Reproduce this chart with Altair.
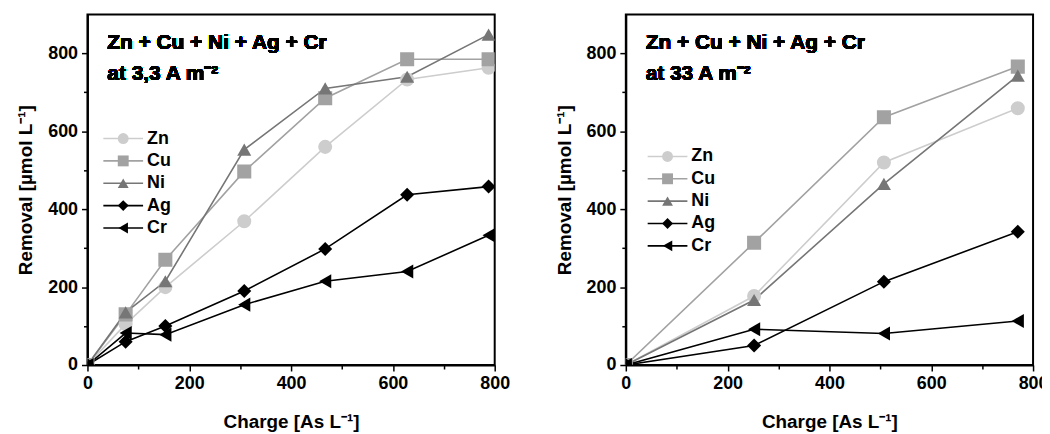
import altair as alt
import pandas as pd

metals = ["Zn", "Cu", "Ni", "Ag", "Cr"]
grays = ["#cdcdcd", "#a2a2a2", "#767676", "#000000", "#000000"]
shapes = ["circle", "square", "triangle-up", "diamond", "triangle-left"]

# Panel 1: 3,3 A m-2
charge1 = [0, 75, 153, 308, 467, 628, 788]
zn1 = [0, 105, 200, 369, 560, 733, 763]
cu1 = [0, 130, 270, 497, 685, 785, 785]
ni1 = [0, 135, 215, 553, 710, 740, 848]
ag1 = [0, 60, 100, 190, 298, 437, 458]
cr1 = [0, 82, 78, 155, 215, 240, 333]

# Panel 2: 33 A m-2
charge2 = [0, 252, 507, 770]
zn2 = [0, 177, 520, 659]
cu2 = [0, 314, 636, 766]
ni2 = [0, 167, 465, 743]
ag2 = [0, 50, 214, 342]
cr2 = [0, 92, 81, 113]

FONT = "Liberation Sans"
W, H = 410, 353


def make_df(charge, series):
    rows = []
    for m, vals in zip(metals, series):
        for c, v in zip(charge, vals):
            rows.append({"metal": m, "charge": c, "removal": v})
    return pd.DataFrame(rows)


legend_df = pd.DataFrame({"metal": metals, "rank": list(range(len(metals)))})


def panel(df, line2, leg_left, leg_top):
    x = alt.X("charge:Q", scale=alt.Scale(domain=[0, 800], nice=False),
              axis=alt.Axis(title="Charge [As L⁻¹]", values=list(range(0, 801, 100)),
                            labelExpr="datum.value % 200 == 0 ? datum.label : ''",
                            tickSize={"condition": {"test": "datum.value % 200 == 0", "value": 6}, "value": 4},
                            labelFlush=False, labelOverlap=False,
                            titlePadding=20, labelPadding=4))
    yscale = alt.Scale(domain=[0, 900], nice=False)
    y = alt.Y("removal:Q", scale=yscale,
              axis=alt.Axis(title="Removal [µmol L⁻¹]", values=list(range(0, 801, 100)),
                            labelExpr="datum.value % 200 == 0 ? datum.label : ''",
                            tickSize={"condition": {"test": "datum.value % 200 == 0", "value": 6}, "value": 4},
                            labelFlush=False, labelOverlap=False,
                            titlePadding=12, labelPadding=4))
    y_noaxis = alt.Y("removal:Q", scale=yscale, axis=None)
    color = alt.Color("metal:N", scale=alt.Scale(domain=metals, range=grays), legend=None)
    shape = alt.Shape("metal:N", scale=alt.Scale(domain=metals, range=shapes), legend=None)
    base = alt.Chart(df)
    lines = base.mark_line(strokeWidth=1.6, clip=True).encode(x=x, y=y, color=color, detail="metal:N")
    pts = base.mark_point(filled=True, size=200, opacity=1, clip=True).encode(
        x=x, y=y_noaxis, color=color, shape=shape)

    # legend drawn from the metals list, rows placed by a pixel-range scale
    ly = alt.Y("rank:Q", scale=alt.Scale(domain=[0, 4], range=[leg_top, leg_top + 4 * 22.5]), axis=None)
    lb = alt.Chart(legend_df)
    leg_rule = lb.mark_rule(strokeWidth=1.6).encode(
        x=alt.value(leg_left), x2=alt.value(leg_left + 40), y=ly, color=color)
    leg_pts = lb.mark_point(filled=True, size=120, opacity=1).encode(
        x=alt.value(leg_left + 20), y=ly, color=color, shape=shape)
    leg_txt = lb.mark_text(align="left", baseline="middle", font=FONT, fontSize=18,
                           fontWeight="bold", color="#000").encode(
        x=alt.value(leg_left + 44), y=ly, text="metal:N")

    t1 = alt.Chart(df).mark_text(align="left", baseline="middle", font=FONT, fontSize=21,
                                 fontWeight="bold", color="#000").encode(
        x=alt.value(20), y=alt.value(29), text=alt.value("Zn + Cu + Ni + Ag + Cr"))
    t2 = alt.Chart(df).mark_text(align="left", baseline="middle", font=FONT, fontSize=21,
                                 fontWeight="bold", color="#000").encode(
        x=alt.value(20), y=alt.value(60), text=alt.value(line2))
    return alt.layer(lines, pts, leg_rule, leg_pts, leg_txt, t1, t2).resolve_scale(
        y="independent").properties(width=W, height=H)


p1 = panel(make_df(charge1, [zn1, cu1, ni1, ag1, cr1]), "at 3,3 A m⁻²", 16, 125)
p2 = panel(make_df(charge2, [zn2, cu2, ni2, ag2, cr2]), "at 33 A m⁻²", 22, 143)

chart = alt.hconcat(p1, p2, spacing=42).properties(
    padding={"top": 4, "left": 7, "right": -8, "bottom": 0}
).configure_view(stroke="#000", strokeWidth=2).configure_axis(
    domainColor="#000", domainWidth=2, tickColor="#000", tickWidth=1.5,
    labelFont=FONT, labelFontSize=18, labelFontWeight="bold", labelColor="#000",
    titleFont=FONT, titleFontSize=19, titleFontWeight="bold", titleColor="#000",
    grid=False)

chart.save("out.html", embed_options={"renderer": "svg", "actions": False})
